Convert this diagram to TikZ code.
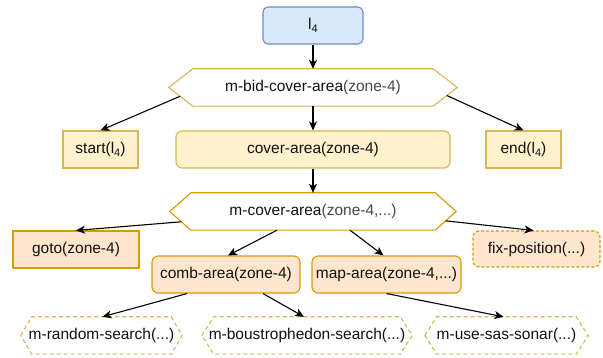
\documentclass[tikz,border=0pt]{standalone}
\usepackage{fontspec}
\setmainfont{Liberation Sans}
\usetikzlibrary{arrows.meta,calc}
\definecolor{blueF}{HTML}{DAE8FC}
\definecolor{blueD}{HTML}{6C8EBF}
\definecolor{yelF}{HTML}{FFF2CC}
\definecolor{yelD}{HTML}{D6B656}
\definecolor{orF}{HTML}{FFE6CC}
\definecolor{orD}{HTML}{D79B00}
\definecolor{argc}{HTML}{484848}
\definecolor{txtc}{HTML}{111111}
\newcommand\lsub[1]{l\raisebox{-0.45ex}{\fontsize{11pt}{12pt}\selectfont #1}}
\newcommand\argtxt[1]{\textcolor{argc}{#1}}
\newcommand\drawhex[3]{\draw[#3] (#1.west) -- ([xshift=#2]#1.north west) -- ([xshift=-#2]#1.north east) -- (#1.east) -- ([xshift=-#2]#1.south east) -- ([xshift=#2]#1.south west) -- cycle;}
\begin{document}
\begin{tikzpicture}[x=1pt,y=-1pt,
 font=\fontsize{15.5pt}{17pt}\selectfont, text=txtc,
 box/.style={draw, line width=1.1pt, inner sep=0pt, align=center},
 bluebox/.style={box, draw=blueD, fill=blueF, rounded corners=5pt},
 yelbox/.style={box, draw=yelD, fill=yelF},
 orbox/.style={box, draw=orD, fill=orF},
 hexnode/.style={inner sep=0pt, align=center},
 hexgold/.style={line width=1.1pt, draw=yelD},
 hexorange/.style={line width=1.1pt, draw=orD},
 hexdash/.style={line width=1.1pt, draw=yelD, dash pattern=on 4pt off 3pt},
 conn/.style={line width=1.1pt, -{Stealth[length=9pt,width=8pt,inset=2.5pt]}},
]
\useasboundingbox (0,0) rectangle (603,358);

% level 0
\node[bluebox, minimum width=100pt, minimum height=37pt] (l4) at (313,25.5) {\lsub{4}};

% level 1
\node[hexnode, minimum width=288pt, minimum height=37pt] (bid) at (313,87.5) {m-bid-cover-area\argtxt{(zone-4)}};
\drawhex{bid}{24pt}{hexgold}

% level 2
\node[yelbox, minimum width=75pt, minimum height=37pt] (start) at (100.5,149.5) {start(\lsub{4})};
\node[yelbox, rounded corners=6pt, minimum width=274pt, minimum height=37pt] (cover) at (313,149.5) {cover-area(zone-4)};
\node[yelbox, minimum width=75pt, minimum height=37pt] (end) at (523.5,149.5) {end(\lsub{4})};

% level 3
\node[hexnode, minimum width=286pt, minimum height=37pt] (mca) at (313,211.5) {m-cover-area\argtxt{(zone-4,...)}};
\drawhex{mca}{21pt}{hexorange}

% level 4
\node[orbox, minimum width=126pt, minimum height=37pt] (goto) at (76,249.5) {goto(zone-4)};
\node[orbox, rounded corners=6pt, dash pattern=on 3pt off 2pt, minimum width=127pt, minimum height=36pt] (fix) at (536.5,249) {fix-position(...)};
\node[orbox, rounded corners=6pt, minimum width=148pt, minimum height=37pt] (comb) at (226,274.5) {comb-area(zone-4)};
\node[orbox, rounded corners=6pt, minimum width=149pt, minimum height=37pt] (map) at (386.5,274.5) {map-area(zone-4,...)};

% level 5
\node[hexnode, minimum width=161pt, minimum height=37pt] (rand) at (101.5,335.5) {m-random-search(...)};
\drawhex{rand}{11pt}{hexdash}
\node[hexnode, minimum width=210pt, minimum height=37pt] (bous) at (307,335.5) {m-boustrophedon-search(...)};
\drawhex{bous}{12pt}{hexdash}
\node[hexnode, minimum width=163pt, minimum height=37pt] (sas) at (506.5,335.5) {m-use-sas-sonar(...)};
\drawhex{sas}{12pt}{hexdash}

% connectors
\draw[conn] (l4.south) -- (bid.north);
\draw[conn] ($(bid.west)!0.47!([xshift=24pt]bid.south west)$) -- (start.north);
\draw[conn] (bid.south) -- (cover.north);
\draw[conn] ($(bid.east)!0.43!([xshift=-24pt]bid.south east)$) -- (end.north);
\draw[conn] (cover.south) -- (mca.north);
\draw[conn] ($(mca.west)!0.55!([xshift=21pt]mca.south west)$) -- (goto.north);
\draw[conn] ([xshift=-36pt]mca.south) -- ([xshift=2pt]comb.north);
\draw[conn] ([xshift=37pt]mca.south) -- ([xshift=-3pt]map.north);
\draw[conn] ($(mca.east)!0.5!([xshift=-21pt]mca.south east)$) -- ([xshift=-3pt]fix.north);
\draw[conn] ([xshift=-39pt]comb.south) -- ([xshift=1pt]rand.north);
\draw[conn] ([xshift=37pt]comb.south) -- ([xshift=-3pt]bous.north);
\draw[conn] (map.south) -- ([xshift=-3pt]sas.north);
\end{tikzpicture}
\end{document}
